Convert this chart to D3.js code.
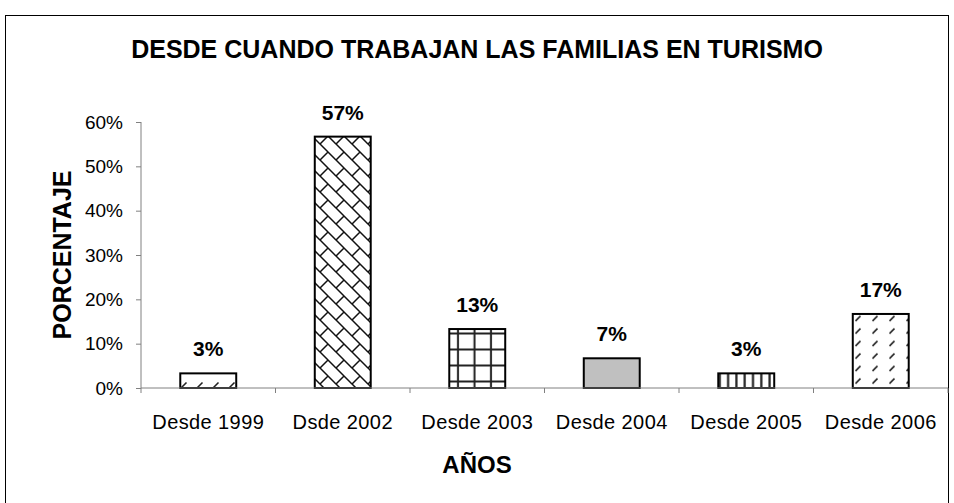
<!DOCTYPE html>
<html>
<head>
<meta charset="utf-8">
<script src="https://cdn.jsdelivr.net/npm/d3@7/dist/d3.min.js"></script>
<style>
  html, body { margin: 0; padding: 0; background: #fff; }
  svg { display: block; font-family: "Liberation Sans", Arial, sans-serif; }
</style>
</head>
<body>
<svg id="chart" width="954" height="503"></svg>
<script>
const categories = ["Desde 1999", "Dsde 2002", "Desde 2003", "Desde 2004", "Desde 2005", "Desde 2006"];
const values = [3.3, 56.7, 13.3, 6.7, 3.3, 16.7];
const valueLabels = ["3%", "57%", "13%", "7%", "3%", "17%"];
const patterns = ["dashDiag", "brick", "grid", "solidGray", "vert", "dashDiag2"];
const yTicks = [0, 10, 20, 30, 40, 50, 60];
const title = "DESDE CUANDO TRABAJAN LAS FAMILIAS EN TURISMO";
const yTitle = "PORCENTAJE";
const xTitle = "AÑOS";

const svg = d3.select("#chart");
const plot = { left: 141, right: 948, top: 122, bottom: 388 };

// outer border
svg.append("rect").attr("x", 5.5).attr("y", 15.5).attr("width", 943).attr("height", 520)
  .attr("fill", "#fff").attr("stroke", "#000").attr("stroke-width", 1);

// patterns
const defs = svg.append("defs");
function pat(id, w, h) {
  return defs.append("pattern").attr("id", id).attr("patternUnits", "userSpaceOnUse")
    .attr("width", w).attr("height", h);
}
let p = pat("dashDiag", 16, 14);
p.append("rect").attr("width", 16).attr("height", 14).attr("fill", "#fff");
p.append("path").attr("d", "M5.5,9.5 L10.5,4.5").attr("stroke", "#222").attr("stroke-width", 1.6);

p = pat("dashDiag2", 17, 12.5);
p.append("rect").attr("width", 17).attr("height", 12.5).attr("fill", "#fff");
p.append("path").attr("d", "M5.5,8.5 L10.5,3.5").attr("stroke", "#222").attr("stroke-width", 1.6);

p = pat("brick", 16, 16);
p.append("rect").attr("width", 16).attr("height", 16).attr("fill", "#fff");
p.append("path").attr("d", "M-2,-2 L18,18 M-2,14 L2,18 M14,-2 L18,2 M8,8 L0,16")
  .attr("stroke", "#111").attr("stroke-width", 1.5).attr("fill", "none");

p = pat("grid", 16.5, 16);
p.append("rect").attr("width", 16.5).attr("height", 16).attr("fill", "#fff");
p.append("path").attr("d", "M12.5,0 V16 M0,13.5 H16.5").attr("stroke", "#222").attr("stroke-width", 2);

p = pat("solidGray", 8, 8);
p.append("rect").attr("width", 8).attr("height", 8).attr("fill", "#c0c0c0");

p = pat("vert", 8.3, 10);
p.append("rect").attr("width", 8.3).attr("height", 10).attr("fill", "#fff");
p.append("path").attr("d", "M6,0 V10").attr("stroke", "#222").attr("stroke-width", 2.2);

// scales
const x = d3.scaleBand().domain(categories).range([plot.left, plot.right])
  .paddingInner(0.584).paddingOuter(0.292);
const y = d3.scaleLinear().domain([0, 60]).range([plot.bottom, plot.top]);

// bars
const data = categories.map((c, i) => ({ c, v: values[i], l: valueLabels[i], p: patterns[i] }));
svg.append("g").selectAll("rect").data(data).join("rect")
  .attr("x", d => x(d.c)).attr("width", x.bandwidth())
  .attr("y", d => y(d.v)).attr("height", d => y(0) - y(d.v))
  .attr("fill", d => `url(#${d.p})`)
  .attr("stroke", "#000").attr("stroke-width", 2);

// value labels
svg.append("g").selectAll("text").data(data).join("text")
  .attr("x", d => x(d.c) + x.bandwidth() / 2)
  .attr("y", d => y(d.v) - 17)
  .attr("text-anchor", "middle").attr("font-weight", "bold").attr("font-size", 21)
  .attr("fill", "#000").text(d => d.l);

// y axis
const yAxis = svg.append("g").attr("transform", `translate(${plot.left},0)`)
  .call(d3.axisLeft(y).tickValues(yTicks).tickFormat(d => d + "%").tickSize(5).tickPadding(13));
yAxis.select(".domain").attr("stroke", "#808080").attr("d", `M-0,${plot.top}V${plot.bottom}`);
yAxis.selectAll(".tick line").attr("stroke", "#808080");
yAxis.selectAll(".tick text").attr("font-size", 19).attr("fill", "#000")
  .attr("font-family", "Liberation Sans, Arial, sans-serif");

// x axis
const xAxis = svg.append("g").attr("transform", `translate(0,${plot.bottom})`)
  .call(d3.axisBottom(x).tickSize(0).tickPadding(27));
xAxis.select(".domain").attr("stroke", "#808080").attr("d", `M${plot.left},0H${plot.right}`);
xAxis.selectAll(".tick text").attr("font-size", 20).attr("letter-spacing", 0.4).attr("fill", "#000")
  .attr("font-family", "Liberation Sans, Arial, sans-serif");
const step = x.step();
const bounds = d3.range(categories.length + 1).map(i => plot.left + i * step);
xAxis.append("g").selectAll("line").data(bounds).join("line")
  .attr("x1", d => d).attr("x2", d => d).attr("y1", 0).attr("y2", 5)
  .attr("stroke", "#808080");

// titles
svg.append("text").attr("x", 477).attr("y", 58).attr("text-anchor", "middle")
  .attr("font-weight", "bold").attr("font-size", 25).text(title);
svg.append("text").attr("transform", "translate(71,255) rotate(-90)").attr("text-anchor", "middle")
  .attr("font-weight", "bold").attr("font-size", 25).text(yTitle);
svg.append("text").attr("x", 477).attr("y", 473).attr("text-anchor", "middle")
  .attr("font-weight", "bold").attr("font-size", 24).text(xTitle);
</script>
</body>
</html>
